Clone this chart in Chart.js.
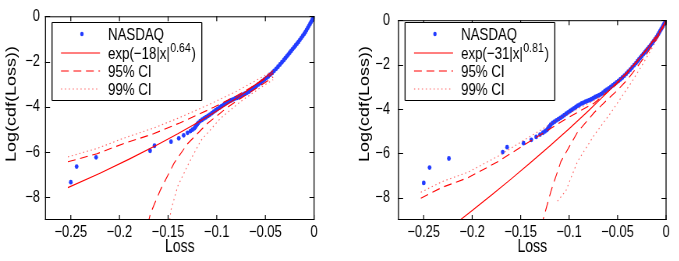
<!DOCTYPE html>
<html>
<head>
<meta charset="utf-8">
<script src="https://cdn.jsdelivr.net/npm/chart.js@4.4.0/dist/chart.umd.min.js"></script>
<style>
  html, body { margin: 0; padding: 0; background: #fff; }
  #wrap { position: relative; width: 679px; height: 261px; overflow: hidden; }
  /* the original figure is squeezed horizontally, so draw wide and scale down */
  canvas { position: absolute; top: 0; transform: scaleX(0.78); transform-origin: 0 0; }
</style>
</head>
<body>
<div id="wrap">
  <canvas id="left" width="436" height="261" style="left:0px"></canvas>
  <canvas id="right" width="435" height="261" style="left:340px"></canvas>
</div>
<script>
// empirical tail, same in both panels
const nasdaqLoss = [
  -0.250, -0.244, -0.224, -0.1685, -0.164, -0.147, -0.139, -0.134, -0.130, -0.127,
  -0.125, -0.123, -0.122, -0.121, -0.120, -0.119, -0.117, -0.115, -0.113, -0.111,
  -0.109, -0.107, -0.105, -0.103, -0.101, -0.099, -0.097, -0.095, -0.093, -0.091,
  -0.089, -0.087, -0.085, -0.083, -0.081, -0.079, -0.077, -0.075, -0.073, -0.071,
  -0.069, -0.067, -0.065, -0.063, -0.061, -0.059, -0.057, -0.055, -0.053, -0.051,
  -0.049, -0.047, -0.045, -0.043, -0.041, -0.039, -0.037, -0.035, -0.033, -0.031,
  -0.0295, -0.028, -0.0265, -0.025, -0.0235, -0.022, -0.0205, -0.019, -0.0175, -0.016,
  -0.0145, -0.013, -0.0115, -0.010, -0.0088, -0.0076, -0.0064, -0.0052, -0.0040, -0.0030,
  -0.0020, -0.0010, 0
];
const nasdaqLogCdf = [
  -7.33, -6.64, -6.23, -5.94, -5.72, -5.54, -5.39, -5.26, -5.15, -5.07,
  -5.01, -4.95, -4.89, -4.83, -4.77, -4.71, -4.63, -4.57, -4.51, -4.46,
  -4.40, -4.34, -4.28, -4.21, -4.15, -4.09, -4.03, -3.97, -3.91, -3.85,
  -3.80, -3.75, -3.71, -3.67, -3.63, -3.60, -3.56, -3.51, -3.46, -3.42,
  -3.38, -3.33, -3.26, -3.19, -3.13, -3.07, -3.01, -2.94, -2.87, -2.80,
  -2.73, -2.66, -2.58, -2.50, -2.41, -2.32, -2.23, -2.13, -2.03, -1.93,
  -1.85, -1.77, -1.69, -1.61, -1.53, -1.45, -1.37, -1.29, -1.21, -1.13,
  -1.04, -0.95, -0.86, -0.77, -0.69, -0.60, -0.51, -0.42, -0.33, -0.25,
  -0.17, -0.09, 0
];

// left panel: exp(-18|x|^0.64)
const leftFitX = [-0.253, -0.22, -0.19, -0.16, -0.14, -0.12, -0.10, -0.08, -0.06, -0.05, -0.042];
const leftFitY = [-7.57, -6.93, -6.31, -5.65, -5.19, -4.70, -4.18, -3.63, -3.01, -2.69, -2.40];
const leftUpX = [-0.253, -0.223, -0.196, -0.165, -0.138, -0.12, -0.103, -0.08, -0.062, -0.048, -0.042];
const leftUp95Y = [-6.43, -6.07, -5.63, -5.19, -4.71, -4.36, -4.02, -3.52, -3.07, -2.70, -2.52];
const leftUp99Y = [-6.21, -5.84, -5.39, -4.94, -4.47, -4.13, -3.80, -3.32, -2.89, -2.55, -2.38];
const leftLo95X = [-0.171, -0.168, -0.158, -0.144, -0.13, -0.11, -0.089, -0.0685, -0.051, -0.042];
const leftLo95Y = [-9.2, -8.7, -7.68, -6.5, -5.63, -4.75, -4.02, -3.43, -2.95, -2.68];
const leftLo99X = [-0.149, -0.147, -0.14, -0.13, -0.1165, -0.096, -0.075, -0.055, -0.042];
const leftLo99Y = [-9.2, -8.55, -7.5, -6.6, -5.5, -4.5, -3.75, -3.15, -2.8];

// right panel: exp(-31|x|^0.81)
const rightFitX = [-0.22, -0.20, -0.18, -0.16, -0.14, -0.12, -0.10, -0.08, -0.06, -0.05, -0.04, -0.03, -0.02, -0.01, -0.005, -0.002, 0];
const rightFitY = [-9.26, -8.57, -7.87, -7.16, -6.42, -5.67, -4.89, -4.08, -3.23, -2.79, -2.33, -1.84, -1.33, -0.76, -0.43, -0.21, 0];
const rightUpX = [-0.253, -0.231, -0.204, -0.173, -0.142, -0.125, -0.1015, -0.074, -0.054, -0.04, -0.03, -0.02, -0.01, -0.005, 0];
const rightUp95Y = [-8.02, -7.53, -7.09, -6.36, -5.5, -5.04, -4.4, -3.73, -3.0, -2.38, -1.86, -1.3, -0.72, -0.4, 0];
const rightUp99Y = [-7.75, -7.27, -6.84, -6.12, -5.28, -4.84, -4.22, -3.61, -2.92, -2.32, -1.81, -1.26, -0.69, -0.38, 0];
const rightLo95X = [-0.1285, -0.127, -0.1186, -0.1084, -0.0913, -0.0743, -0.0606, -0.05, -0.04, -0.03, -0.02, -0.01, -0.005, 0];
const rightLo95Y = [-9.3, -9.0, -7.68, -6.36, -5.04, -4.17, -3.58, -3.15, -2.68, -2.12, -1.52, -0.86, -0.5, 0];
const rightLo99X = [-0.112, -0.1033, -0.0913, -0.0743, -0.057, -0.045, -0.035, -0.025, -0.015, -0.008, -0.003, 0];
const rightLo99Y = [-8.15, -7.68, -6.36, -5.19, -4.17, -3.4, -2.75, -2.05, -1.3, -0.75, -0.35, 0];

const xTicks = [-0.25, -0.2, -0.15, -0.1, -0.05, 0];
const yTicks = [-8, -6, -4, -2, 0];

const FONT = "'Liberation Sans', Arial, Helvetica, sans-serif";
const BLUE = "rgb(35,60,255)";
const RED = "#ff0000";
const PINK = "rgba(255,30,30,0.7)";

const pairs = (xs, ys) => xs.map((x, i) => ({ x: x, y: ys[i] }));
const minusSign = (v) => (v === 0 ? "0" : String(v).replace("-", "\u2212"));

function line(ctx, x1, y1, x2, y2) {
  ctx.beginPath();
  ctx.moveTo(x1, y1);
  ctx.lineTo(x2, y2);
  ctx.stroke();
}

// box round the axes, inward ticks on all four sides, y label and the legend
const framePlugin = {
  id: "frame",
  afterDraw(chart) {
    const ctx = chart.ctx;
    const a = chart.chartArea;
    const xs = chart.scales.x;
    const ys = chart.scales.y;
    const lg = chart.options.plugins.frame;
    ctx.save();
    ctx.strokeStyle = "#000";

    ctx.lineWidth = 1;
    line(ctx, a.left, a.top + 0.5, a.right, a.top + 0.5);
    line(ctx, a.left, a.bottom - 0.5, a.right, a.bottom - 0.5);
    ctx.lineWidth = 1.3;
    line(ctx, a.left + 0.6, a.top, a.left + 0.6, a.bottom);
    line(ctx, a.right - 0.6, a.top, a.right - 0.6, a.bottom);

    ctx.lineWidth = 1.2;
    xs.ticks.forEach((t) => {
      const px = xs.getPixelForValue(t.value);
      line(ctx, px, a.bottom, px, a.bottom - 5);
      line(ctx, px, a.top, px, a.top + 5);
    });
    ctx.lineWidth = 1;
    ys.ticks.forEach((t) => {
      const py = Math.round(ys.getPixelForValue(t.value)) + 0.5;
      line(ctx, a.left, py, a.left + 6.5, py);
      line(ctx, a.right, py, a.right - 6.5, py);
    });

    // y axis label, sits a little above the middle like the original
    ctx.save();
    ctx.translate(lg.titleX, 104);
    ctx.rotate(-Math.PI / 2);
    ctx.fillStyle = "#000";
    ctx.font = "18px " + FONT;
    ctx.textAlign = "center";
    ctx.textBaseline = "middle";
    ctx.fillText("Log(cdf(Loss))", 0, 0);
    ctx.restore();

    // legend
    const x0 = a.left + 9;
    const y0 = 22.5;
    const w = 192;
    const h = 78;
    ctx.fillStyle = "#fff";
    ctx.fillRect(x0, y0, w, h);
    ctx.lineWidth = 1;
    line(ctx, x0, y0, x0 + w, y0);
    line(ctx, x0, y0 + h, x0 + w, y0 + h);
    ctx.lineWidth = 1.3;
    line(ctx, x0, y0, x0, y0 + h);
    line(ctx, x0 + w, y0, x0 + w, y0 + h);

    const sx1 = a.left + 20.5;
    const sx2 = a.left + 70.5;
    const tx = a.left + 80.8;
    const rows = [34, 53, 71, 89];

    ctx.fillStyle = BLUE;
    ctx.beginPath();
    ctx.arc(a.left + 47.3, rows[0], 2.2, 0, Math.PI * 2);
    ctx.fill();

    ctx.strokeStyle = RED;
    ctx.lineWidth = 1.1;
    line(ctx, sx1, rows[1], sx2, rows[1]);
    ctx.setLineDash([10, 6]);
    line(ctx, sx1, rows[2], sx2, rows[2]);
    ctx.strokeStyle = PINK;
    ctx.setLineDash([1.5, 3.5]);
    line(ctx, sx1, rows[3], sx2, rows[3]);
    ctx.setLineDash([]);

    ctx.fillStyle = "#000";
    ctx.textBaseline = "middle";
    ctx.textAlign = "left";
    ctx.font = "17px " + FONT;
    ctx.fillText("NASDAQ", tx, rows[0] + 1);
    ctx.fillText("95% CI", tx, rows[2] + 1);
    ctx.fillText("99% CI", tx, rows[3] + 1);
    ctx.fillText(lg.fitBase, tx, rows[1] + 1);
    let cx = tx + ctx.measureText(lg.fitBase).width;
    ctx.font = "13.5px " + FONT;
    ctx.fillText(lg.fitPower, cx + 0.5, rows[1] - 5);
    cx += ctx.measureText(lg.fitPower).width + 1.5;
    ctx.font = "17px " + FONT;
    ctx.fillText(")", cx, rows[1] + 1);
    ctx.restore();
  }
};

function makePanel(id, p) {
  const lineSet = (label, xs, ys, color, dash) => ({
    label: label,
    data: pairs(xs, ys),
    showLine: true,
    borderColor: color,
    borderWidth: 1.1,
    borderDash: dash,
    pointRadius: 0,
    fill: false
  });

  new Chart(document.getElementById(id), {
    type: "scatter",
    data: {
      datasets: [
        lineSet("99% CI lower", p.lo99X, p.lo99Y, PINK, [1.5, 3.5]),
        lineSet("99% CI upper", p.upX, p.up99Y, PINK, [1.5, 3.5]),
        lineSet("95% CI lower", p.lo95X, p.lo95Y, RED, [10, 6]),
        lineSet("95% CI upper", p.upX, p.up95Y, RED, [10, 6]),
        lineSet("fit", p.fitX, p.fitY, RED, []),
        {
          label: "NASDAQ",
          data: pairs(nasdaqLoss, nasdaqLogCdf),
          pointRadius: 2.4,
          pointBackgroundColor: BLUE,
          pointBorderWidth: 0,
          showLine: false
        }
      ]
    },
    options: {
      responsive: false,
      animation: false,
      devicePixelRatio: 1,
      layout: { padding: { top: 15, right: p.rightPad, left: 0, bottom: 0 } },
      plugins: {
        legend: { display: false },
        tooltip: { enabled: false },
        frame: { fitBase: p.fitBase, fitPower: p.fitPower, titleX: p.titleX }
      },
      scales: {
        x: {
          type: "linear",
          min: -0.2765,
          max: 0.0005,
          afterBuildTicks: (s) => { s.ticks = xTicks.map((v) => ({ value: v })); },
          afterFit: (s) => { s.height = 41; },
          grid: { display: false, drawTicks: false },
          border: { display: false },
          ticks: {
            autoSkip: false,
            maxRotation: 0,
            padding: 3,
            color: "#000",
            font: { family: FONT, size: 16.5 },
            callback: (v) => minusSign(v)
          },
          title: {
            display: true,
            text: "Loss",
            color: "#000",
            font: { family: FONT, size: 18 },
            padding: { top: 0, bottom: 3 }
          }
        },
        y: {
          type: "linear",
          min: -9,
          max: 0,
          afterBuildTicks: (s) => { s.ticks = yTicks.map((v) => ({ value: v })); },
          afterFit: (s) => { s.width = p.yWidth; },
          grid: { display: false, drawTicks: false },
          border: { display: false },
          ticks: {
            padding: p.tickPad,
            color: "#000",
            font: { family: FONT, size: 16.5 },
            callback: (v) => minusSign(v)
          },
          title: { display: false }
        }
      }
    },
    plugins: [framePlugin]
  });
}

makePanel("left", {
  fitX: leftFitX, fitY: leftFitY,
  upX: leftUpX, up95Y: leftUp95Y, up99Y: leftUp99Y,
  lo95X: leftLo95X, lo95Y: leftLo95Y,
  lo99X: leftLo99X, lo99Y: leftLo99Y,
  fitBase: "exp(\u221218|x|", fitPower: "0.64",
  yWidth: 57.7, rightPad: 32.8, tickPad: 6.4, titleX: 15.4
});

makePanel("right", {
  fitX: rightFitX, fitY: rightFitY,
  upX: rightUpX, up95Y: rightUp95Y, up99Y: rightUp99Y,
  lo95X: rightLo95X, lo95Y: rightLo95Y,
  lo99X: rightLo99X, lo99Y: rightLo99Y,
  fitBase: "exp(\u221231|x|", fitPower: "0.81",
  yWidth: 74.4, rightPad: 16.4, tickPad: 10.3, titleX: 32
});
</script>
</body>
</html>
